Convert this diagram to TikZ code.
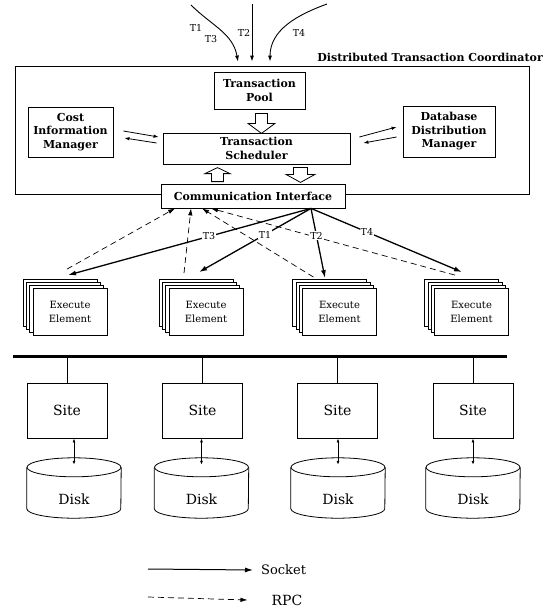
\documentclass[tikz,border=0pt]{standalone}
\usepackage{fontspec}
\setmainfont{DejaVu Serif}
\usetikzlibrary{arrows.meta, positioning, shadows}
\tikzset{
    framenode/.style = {draw, rectangle, line width=0.8pt, minimum width=514pt, minimum height=128pt, inner sep=0pt},
    titlenode/.style = {draw=none, inner sep=0pt, font=\fontsize{11}{13}\selectfont\bfseries},
    boldnode/.style = {draw, rectangle, fill=white, line width=0.8pt, inner sep=0pt, align=center,
      font=\fontsize{11}{13.5}\selectfont\bfseries},
    hollow/.style = {draw, fill=white, line width=0.8pt, line join=miter},
    eenode/.style = {draw, rectangle, fill=white, line width=0.8pt, minimum width=74pt, minimum height=47pt,
      inner sep=0pt, align=center, font=\fontsize{10}{14}\selectfont,
      copy shadow={shadow xshift=-10pt, shadow yshift=9pt},
      copy shadow={shadow xshift=-6.6pt, shadow yshift=6pt},
      copy shadow={shadow xshift=-3.3pt, shadow yshift=3pt}},
    sitenode/.style = {draw, rectangle, line width=0.8pt, minimum width=80pt, minimum height=55pt,
      inner sep=0pt, font=\fontsize{14}{16}\selectfont},
    diskbox/.style = {draw=none, rectangle, minimum width=94pt, minimum height=60pt, inner sep=0pt},
    disktext/.style = {font=\fontsize{14}{16}\selectfont},
    smalltext/.style = {draw=none, inner sep=1pt, font=\fontsize{9.5}{11}\selectfont},
    tlabel/.style = {fill=white, inner sep=1pt, font=\fontsize{9.5}{11}\selectfont},
    legendtext/.style = {draw=none, inner sep=0pt, font=\fontsize{13}{15}\selectfont},
    feed/.style = {line width=0.9pt, -{Latex[length=6pt,width=4pt]}},
    thinarrow/.style = {line width=0.8pt, -{Latex[length=5pt,width=3.5pt]}},
    socket/.style = {line width=1.3pt, -{Latex[length=8pt,width=5pt]}},
    rpc/.style = {line width=0.7pt, dash pattern=on 6pt off 4pt, -{Latex[length=7pt,width=4.5pt]}},
    bus/.style = {line width=3pt},
    dblarrow/.style = {line width=0.8pt, {Latex[length=4pt,width=3pt]}-{Latex[length=4pt,width=3pt]}}
}
\newcommand{\drawdisk}[1]{%
  \draw[line width=0.8pt] ([yshift=-9.5pt]#1.north) ellipse [x radius=47pt, y radius=9.5pt];
  \draw[line width=0.8pt] ([yshift=-9.5pt]#1.north west) -- ([yshift=9.5pt]#1.south west)
    arc [start angle=180, end angle=360, x radius=47pt, y radius=9.5pt] -- ([yshift=-9.5pt]#1.north east);
}

\begin{document}
\begin{tikzpicture}[x=1pt, y=-1pt, node distance=0pt]
\useasboundingbox (0,0) rectangle (558,610);

\node[framenode, name=dtc] at (272,130) {};
\node[titlenode, name=dtctitle, anchor=base east] at (543,62) {Distributed Transaction Coordinator};

\node[boldnode, name=pool, minimum width=91pt, minimum height=37pt] at (259.5,90.5) {Transaction\\Pool};
\node[boldnode, name=sched, minimum width=187pt, minimum height=31pt] at (256.5,148.5) {Transaction\\Scheduler};
\node[boldnode, name=cost, minimum width=85pt, minimum height=50pt] at (70.5,132) {Cost\\Information\\Manager};
\node[boldnode, name=ddm, minimum width=92pt, minimum height=51pt] at (449,131.5) {Database\\Distribution\\Manager};
\node[boldnode, name=comm, minimum width=184pt, minimum height=24pt] at (253,196) {Communication Interface};

\coordinate (poolout) at ([xshift=2pt, yshift=-4pt]pool.south);
\coordinate (commup) at ([xshift=-35.5pt, yshift=2pt]comm.north);
\coordinate (commdown) at ([xshift=-2pt, yshift=-3pt]sched.south -| 302.5,0);
\draw[hollow] (poolout) ++(-6,0) -- ++(12,0) -- ++(0,10) -- ++(7.5,0) -- ++(-13.5,10)
  -- ++(-13.5,-10) -- ++(7.5,0) -- cycle;
\draw[hollow] (commup) ++(-6,0) -- ++(12,0) -- ++(0,-8) -- ++(6.5,0) -- ++(-12.5,-6)
  -- ++(-12.5,6) -- ++(6.5,0) -- cycle;
\draw[hollow] (commdown) ++(-7,0) -- ++(14,0) -- ++(0,7) -- ++(7.5,0) -- ++(-14.5,8)
  -- ++(-14.5,-8) -- ++(7.5,0) -- cycle;

\draw[thinarrow] ([xshift=10pt, yshift=1pt]cost.east) -- ([xshift=-4pt, yshift=11.5pt]sched.west);
\draw[thinarrow] ([xshift=-6pt, yshift=5.5pt]sched.west) -- ([xshift=11pt, yshift=-6pt]cost.east);
\draw[thinarrow] ([xshift=9pt, yshift=11.5pt]sched.east) -- ([xshift=-6pt, yshift=4.5pt]ddm.west);
\draw[thinarrow] ([xshift=-6pt, yshift=-5.5pt]ddm.west) -- ([xshift=13pt, yshift=5.5pt]sched.east);

\coordinate (in1) at (191,5);
\coordinate (in2) at (252,4);
\coordinate (in4) at (327,4);
\draw[feed] (in1) to[out=-45, in=100] ([xshift=-34pt, yshift=4pt]dtc.north);
\draw[feed] (in2) -- ([xshift=-20pt, yshift=4pt]dtc.north);
\draw[feed] (in4) to[out=200, in=90] ([xshift=-2pt, yshift=4pt]dtc.north);
\node[smalltext, name=tin1] at (196,28) {T1};
\node[smalltext, name=tin3] at (211,39) {T3};
\node[smalltext, name=tin2] at (244,33) {T2};
\node[smalltext, name=tin4] at (299,33) {T4};

\node[eenode, name=ee1] at (70,312) {Execute\\Element};
\node[eenode, name=ee2, right of=ee1, xshift=136pt] {Execute\\Element};
\node[eenode, name=ee3, right of=ee2, xshift=133.5pt] {Execute\\Element};
\node[eenode, name=ee4, right of=ee3, xshift=132pt] {Execute\\Element};

\draw[rpc] ([xshift=-3pt, yshift=19pt]ee1.north) -- ([xshift=-78pt]comm.south);
\draw[rpc] ([xshift=-22pt, yshift=15pt]ee2.north) -- ([xshift=-62pt]comm.south);
\draw[rpc] ([xshift=-26pt, yshift=11pt]ee3.north) -- ([xshift=-51pt]comm.south);
\draw[rpc] ([xshift=-16.5pt, yshift=13pt]ee4.north) -- ([xshift=-42pt]comm.south);

\draw[socket] ([xshift=58pt]comm.south) -- node[tlabel, pos=0.42, name=tout3] {T3} ([xshift=-2pt, yshift=13pt]ee1.north);
\draw[socket] ([xshift=58pt]comm.south) -- node[tlabel, pos=0.41, name=tout1] {T1} ([xshift=-7pt, yshift=16pt]ee2.north);
\draw[socket] ([xshift=58pt]comm.south) -- node[tlabel, pos=0.39, name=tout2] {T2} ([xshift=-14.5pt, yshift=10pt]ee3.north);
\draw[socket] ([xshift=58pt]comm.south) -- node[tlabel, pos=0.37, name=tout4] {T4} ([xshift=-9.5pt, yshift=16pt]ee4.north);

\coordinate (busl) at (13,356);
\coordinate (busr) at (507,356);
\draw[bus] (busl) -- (busr);

\node[sitenode, name=site1] at (67,410.5) {Site};
\node[sitenode, name=site2, right of=site1, xshift=135.5pt] {Site};
\node[sitenode, name=site3, right of=site2, xshift=135pt] {Site};
\node[sitenode, name=site4, right of=site3, xshift=135.5pt] {Site};

\node[diskbox, name=disk1, label={[disktext, yshift=-11pt]center:Disk}] at (74,488) {};
\node[diskbox, name=disk2, label={[disktext, yshift=-11pt]center:Disk}] at (201.5,488) {};
\node[diskbox, name=disk3, label={[disktext, yshift=-11pt]center:Disk}] at (338,488) {};
\node[diskbox, name=disk4, label={[disktext, yshift=-11pt]center:Disk}] at (473,488) {};
\drawdisk{disk1}
\drawdisk{disk2}
\drawdisk{disk3}
\drawdisk{disk4}

\draw[line width=1pt] (site1.north) -- (site1.north |- busl);
\draw[line width=1pt] (site2.north) -- (site2.north |- busl);
\draw[line width=1pt] (site3.north) -- (site3.north |- busl);
\draw[line width=1pt] (site4.north) -- (site4.north |- busl);

\draw[dblarrow] (disk1.north |- site1.south) -- ([yshift=-7pt]disk1.north);
\draw[dblarrow] (disk2.north |- site2.south) -- ([yshift=-7pt]disk2.north);
\draw[dblarrow] (disk3.north |- site3.south) -- ([yshift=-7pt]disk3.north);
\draw[dblarrow] (disk4.north |- site4.south) -- ([yshift=-7pt]disk4.north);

\coordinate (leg1) at (148,569);
\coordinate (leg2) at (148,597);
\node[legendtext, name=socketlbl, anchor=west] at (261,570) {Socket};
\node[legendtext, name=rpclbl, font=\fontsize{14}{16}\selectfont] at (287,600) {RPC};
\draw[socket, line width=1pt] (leg1) -- ([xshift=-8pt]socketlbl.west);
\draw[rpc] (leg2) -- ([xshift=-24pt]rpclbl.west);
\end{tikzpicture}
\end{document}
